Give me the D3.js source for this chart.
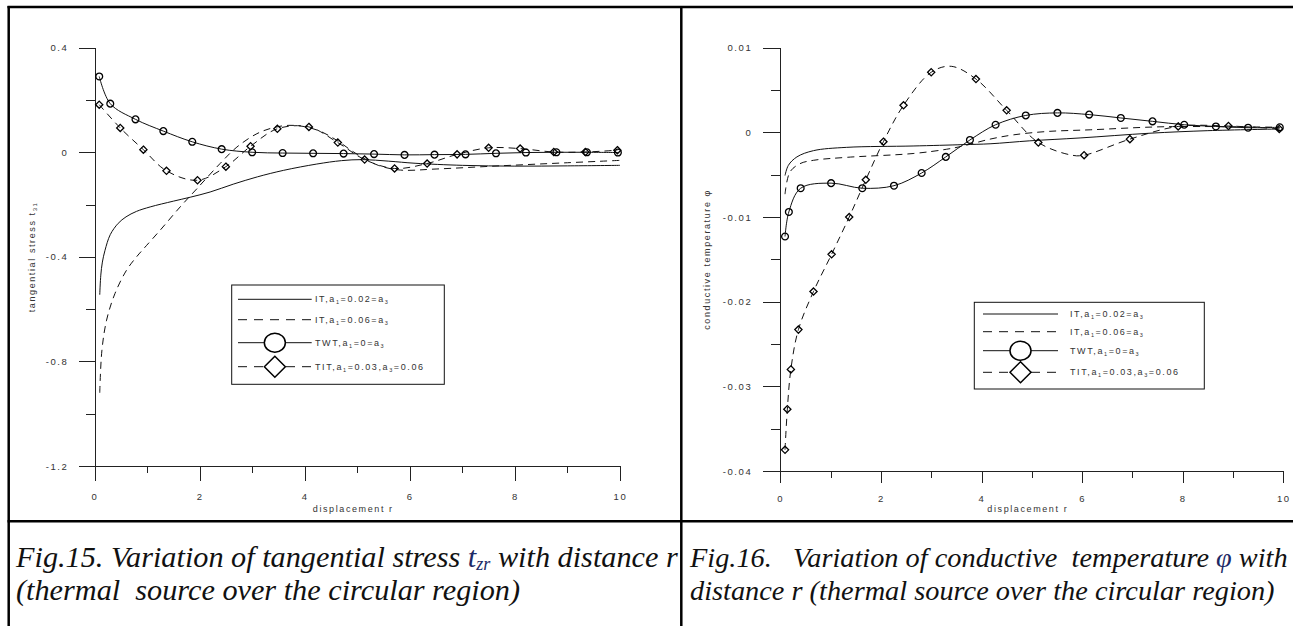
<!DOCTYPE html>
<html>
<head>
<meta charset="utf-8">
<script src="https://cdn.jsdelivr.net/npm/d3@7/dist/d3.min.js"></script>
<style>
  body { margin: 0; background: #fff; }
  svg { display: block; }
  .axis text { font-family: "Liberation Sans", Arial, sans-serif; font-size: 9.5px; fill: #333; letter-spacing: 1.6px; }
  .axis path, .axis line { stroke: #222; stroke-width: 1; shape-rendering: crispEdges; }
  .lbl { font-family: "Liberation Sans", Arial, sans-serif; font-size: 9px; fill: #333; letter-spacing: 1.6px; }
  .cap { font-family: "Liberation Serif", "Times New Roman", serif; font-style: italic; fill: #111; white-space: pre; }
</style>
</head>
<body>
<svg id="chart" width="1293" height="626"></svg>
<script>
// ticks
const xTicks = [0, 2, 4, 6, 8, 10];
const xMinorTicks = [1, 3, 5, 7, 9];
const stressTicks = [0.4, 0, -0.4, -0.8, -1.2];
const stressMinorTicks = [0.2, -0.2, -0.6, -1.0];
const tempTicks = [0.01, 0, -0.01, -0.02, -0.03, -0.04];
const tempMinorTicks = [0.005, -0.005, -0.015, -0.025, -0.035];

// Fig.15 tangential stress, [r, value]
const stressIT02 = [[0.1,-0.545],[0.12,-0.47],[0.15,-0.42],[0.2,-0.375],[0.3,-0.315],[0.45,-0.272],[0.6,-0.247],[0.8,-0.226],[1.06,-0.209],[1.5,-0.187],[1.82,-0.172],[2.2,-0.152],[2.64,-0.122],[3.1,-0.094],[3.6,-0.069],[4.23,-0.045],[4.7,-0.032],[5.1,-0.028],[5.6,-0.034],[6.1,-0.042],[7,-0.05],[8,-0.053],[9,-0.052],[10,-0.05]];
const stressIT06 = [[0.1,-0.92],[0.14,-0.76],[0.23,-0.642],[0.39,-0.54],[0.61,-0.451],[0.8,-0.4],[0.93,-0.37],[1.25,-0.298],[1.63,-0.209],[1.95,-0.139],[2.39,-0.043],[2.71,0.02],[3.09,0.071],[3.4,0.094],[3.7,0.103],[4.0,0.098],[4.3,0.08],[4.6,0.047],[5.0,-0.008],[5.4,-0.05],[5.82,-0.068],[6.5,-0.064],[7.7,-0.052],[9,-0.04],[10,-0.031]];
const stressTWT = [[0.09,0.29],[0.3,0.186],[0.78,0.126],[1.31,0.081],[1.86,0.04],[2.42,0.012],[3.0,0],[3.58,-0.003],[4.16,-0.004],[4.74,-0.005],[5.32,-0.007],[5.9,-0.01],[6.47,-0.009],[7.06,-0.008],[7.64,-0.004],[8.21,-0.001],[8.79,0],[9.37,0],[9.96,-0.001]];
const stressTIT = [[0.09,0.182],[0.49,0.093],[0.93,0.01],[1.37,-0.071],[1.96,-0.107],[2.5,-0.055],[2.97,0.023],[3.48,0.09],[4.08,0.097],[4.63,0.037],[5.14,-0.028],[5.71,-0.062],[6.33,-0.043],[6.9,-0.008],[7.5,0.017],[8.1,0.014],[8.74,0.001],[9.34,0.001],[9.95,0.008]];

// Fig.16 conductive temperature, [r, value]
const tempIT02 = [[0.094,-0.0051],[0.16,-0.0039],[0.33,-0.0029],[0.66,-0.00216],[1.32,-0.00177],[2.64,-0.00161],[3.64,-0.00145],[4.17,-0.00135],[4.96,-0.001],[5.96,-0.00066],[7.35,-0.0001],[8.5,0.0002],[9.93,0.0004]];
const tempIT06 = [[0.094,-0.0073],[0.19,-0.0047],[0.39,-0.0037],[0.66,-0.0033],[1.32,-0.00295],[2.64,-0.0025],[3.3,-0.002],[3.64,-0.0016],[4.17,-0.0008],[4.63,-0.0003],[5.3,0.0001],[6.16,0.0003],[7.68,0.00067],[9.93,0.0006]];
const tempTWT = [[0.094,-0.0123],[0.17,-0.0094],[0.405,-0.0066],[1.01,-0.006],[1.63,-0.0066],[2.26,-0.0063],[2.81,-0.0048],[3.29,-0.0029],[3.77,-0.0009],[4.28,0.0009],[4.88,0.002],[5.51,0.0023],[6.14,0.0021],[6.77,0.0017],[7.4,0.0013],[8.03,0.0009],[8.66,0.0007],[9.3,0.00055],[9.93,0.0006]];
const tempTITMarks = [[0.094,-0.0375],[0.14,-0.0327],[0.21,-0.028],[0.36,-0.0233],[0.66,-0.0188],[1.02,-0.0144],[1.37,-0.01],[1.7,-0.0056],[2.05,-0.0011],[2.45,0.0032],[3.0,0.0071],[3.89,0.0063],[4.5,0.0026],[5.13,-0.0012],[6.04,-0.0027],[6.95,-0.0008],[7.91,0.0007],[8.91,0.00075],[9.92,0.0004]];
const tempTITLine = [[0.094,-0.0375],[0.14,-0.0327],[0.21,-0.028],[0.36,-0.0233],[0.66,-0.0188],[1.02,-0.0144],[1.37,-0.01],[1.7,-0.0056],[2.05,-0.0011],[2.45,0.0032],[3.0,0.0071],[3.4,0.0078],[3.89,0.0063],[4.5,0.0026],[5.13,-0.0012],[5.8,-0.0027],[6.04,-0.0027],[6.95,-0.0008],[7.91,0.0007],[8.91,0.00075],[9.92,0.0004]];

// legend text, odd pieces are subscripts
const legendLabels = [
  ['IT,a', '1', '=0.02=a', '3'],
  ['IT,a', '1', '=0.06=a', '3'],
  ['TWT,a', '1', '=0=a', '3'],
  ['TIT,a', '1', '=0.03,a', '3', '=0.06'],
];

const svg = d3.select('#chart');
const dash = '7,5';

function diamond(s) {
  return `M0,${-s}L${s},0L0,${s}L${-s},0Z`;
}

function addPieces(textSel, pieces, subSize, shift) {
  pieces.forEach((p, i) => {
    const isSub = i % 2 === 1;
    textSel.append('tspan')
      .attr('dy', isSub ? shift : (i > 0 ? -shift : 0))
      .style('font-size', isSub ? subSize + 'px' : null)
      .text(p);
  });
}

function drawPanel(p) {
  const x = d3.scaleLinear().domain([0, 10]).range([p.left, p.right]);
  const y = d3.scaleLinear().domain(p.yDomain).range([p.bottom, p.top]);
  const g = svg.append('g');

  // axes
  g.append('g').attr('class', 'axis')
    .attr('transform', `translate(${p.left},0)`)
    .call(d3.axisLeft(y).tickValues(p.yTicks).tickSize(p.yTick).tickSizeOuter(0)
      .tickPadding(p.yPad).tickFormat((d) => String(d)));
  g.append('g').attr('class', 'axis')
    .attr('transform', `translate(${p.left},0)`)
    .call(d3.axisLeft(y).tickValues(p.yMinor).tickSize(9).tickSizeOuter(0).tickFormat(''));
  g.append('g').attr('class', 'axis')
    .attr('transform', `translate(0,${p.bottom})`)
    .call(d3.axisBottom(x).tickValues(xTicks).tickSize(p.xTick).tickSizeOuter(0)
      .tickPadding(p.xPad).tickFormat((d) => String(d)));
  g.append('g').attr('class', 'axis')
    .attr('transform', `translate(0,${p.bottom})`)
    .call(d3.axisBottom(x).tickValues(xMinorTicks).tickSize(7).tickSizeOuter(0).tickFormat(''));

  // axis titles
  g.append('text').attr('class', 'lbl')
    .attr('x', (p.left + p.right) / 2 - 4).attr('y', 512)
    .attr('text-anchor', 'middle').text('displacement r');
  const yt = g.append('text').attr('class', 'lbl')
    .attr('transform', `translate(${p.yTitleX},${(p.top + p.bottom) / 2}) rotate(-90)`)
    .attr('text-anchor', 'middle');
  addPieces(yt, p.yTitle, 6, 2);

  // lines
  const line = d3.line().x((d) => x(d[0])).y((d) => y(d[1]))
    .curve(d3.curveCatmullRom.alpha(0.5));
  p.series.forEach((s) => {
    g.append('path').datum(s.line)
      .attr('d', line)
      .attr('fill', 'none')
      .attr('stroke', '#111')
      .attr('stroke-width', 1)
      .attr('stroke-dasharray', s.dashed ? dash : null);
  });
  // markers
  p.series.filter((s) => s.marker).forEach((s) => {
    const m = g.append('g').selectAll('path').data(s.marks).join('path')
      .attr('transform', (d) => `translate(${x(d[0])},${y(d[1])})`)
      .attr('fill', 'none').attr('stroke', '#000').attr('stroke-width', 1.3);
    if (s.marker === 'circle') {
      m.attr('d', d3.symbol(d3.symbolCircle, Math.PI * 3.4 * 3.4));
    } else {
      m.attr('d', diamond(3.6));
    }
  });

  // legend
  const L = p.legend;
  const lg = g.append('g');
  lg.append('rect').attr('x', L.x).attr('y', L.y).attr('width', L.w).attr('height', L.h)
    .attr('fill', '#fff').attr('stroke', '#111').attr('stroke-width', 1);
  p.series.forEach((s, i) => {
    const ry = L.rows[i];
    lg.append('line').attr('x1', L.x0).attr('x2', L.x1).attr('y1', ry).attr('y2', ry)
      .attr('stroke', '#111').attr('stroke-width', 1)
      .attr('stroke-dasharray', s.dashed ? '9,7' : null);
    const mx = (L.x0 + L.x1) / 2;
    if (s.marker === 'circle') {
      lg.append('ellipse').attr('cx', mx).attr('cy', ry).attr('rx', 10.5).attr('ry', 9.5)
        .attr('fill', '#fff').attr('stroke', '#000').attr('stroke-width', 1.5);
    } else if (s.marker === 'diamond') {
      lg.append('path').attr('d', diamond(10.5)).attr('transform', `translate(${mx},${ry})`)
        .attr('fill', '#fff').attr('stroke', '#000').attr('stroke-width', 1.5);
    }
    const t = lg.append('text').attr('class', 'lbl').attr('x', L.tx).attr('y', ry + 3);
    addPieces(t, legendLabels[i], 5.5, 2);
  });
}

drawPanel({
  left: 94.5, right: 620, top: 47.7, bottom: 466,
  yDomain: [-1.2, 0.4], yTicks: stressTicks, yMinor: stressMinorTicks,
  yTick: 16, yPad: 10, xTick: 15, xPad: 12,
  yTitleX: 35, yTitle: ['tangential stress t', '31'],
  series: [
    { line: stressIT02 },
    { line: stressIT06, dashed: true },
    { line: stressTWT, marks: stressTWT, marker: 'circle' },
    { line: stressTIT, marks: stressTIT, marker: 'diamond', dashed: true },
  ],
  legend: { x: 231.7, y: 285, w: 212.6, h: 99.3, rows: [299.3, 319.7, 342.7, 366.7], x0: 238, x1: 311.7, tx: 315 },
});

drawPanel({
  left: 780.3, right: 1283.3, top: 47.7, bottom: 471,
  yDomain: [-0.04, 0.01], yTicks: tempTicks, yMinor: tempMinorTicks,
  yTick: 17, yPad: 11, xTick: 12, xPad: 12,
  yTitleX: 710, yTitle: ['conductive temperature φ'],
  series: [
    { line: tempIT02 },
    { line: tempIT06, dashed: true },
    { line: tempTWT, marks: tempTWT, marker: 'circle' },
    { line: tempTITLine, marks: tempTITMarks, marker: 'diamond', dashed: true },
  ],
  legend: { x: 974.3, y: 302.3, w: 230, h: 86.7, rows: [314, 331.7, 350.7, 372.3], x0: 983, x1: 1058, tx: 1070 },
});

// table frame
const frame = svg.append('g').attr('stroke', '#000').attr('stroke-width', 2.5);
frame.append('line').attr('x1', 7.5).attr('x2', 1293).attr('y1', 7).attr('y2', 7);
frame.append('line').attr('x1', 8.7).attr('x2', 8.7).attr('y1', 6).attr('y2', 626);
frame.append('line').attr('x1', 681.3).attr('x2', 681.3).attr('y1', 6).attr('y2', 626);
frame.append('line').attr('x1', 7.5).attr('x2', 1293).attr('y1', 521.3).attr('y2', 521.3);

// captions
const capColor = '#1d2a66';
const cap1a = svg.append('text').attr('class', 'cap').attr('x', 16).attr('y', 567).attr('xml:space', 'preserve');
cap1a.append('tspan').text('Fig.15. Variation of tangential stress ');
cap1a.append('tspan').attr('fill', capColor).text('t');
cap1a.append('tspan').attr('fill', capColor).attr('dy', 3).attr('class', 'capsub').text('zr');
cap1a.append('tspan').attr('dy', -3).text(' with distance r');
const cap1b = svg.append('text').attr('class', 'cap').attr('x', 16).attr('y', 600).attr('xml:space', 'preserve')
  .text('(thermal  source over the circular region)');
const cap2a = svg.append('text').attr('class', 'cap').attr('x', 690).attr('y', 567).attr('xml:space', 'preserve');
cap2a.append('tspan').text('Fig.16.   Variation of conductive  temperature ');
cap2a.append('tspan').attr('fill', capColor).text('φ');
cap2a.append('tspan').text(' with');
const cap2b = svg.append('text').attr('class', 'cap').attr('x', 690).attr('y', 600).attr('xml:space', 'preserve')
  .text('distance r (thermal source over the circular region)');

// fit each caption to the width its first line has in the page
function fitCaption(lines, target) {
  lines.forEach((t) => t.style('font-size', '20px'));
  lines[0].selectAll('.capsub').style('font-size', '12px');
  const widest = d3.max(lines, (t) => t.node().getComputedTextLength());
  const fs = 20 * target / widest;
  lines.forEach((t) => t.style('font-size', fs + 'px'));
  lines[0].selectAll('.capsub').style('font-size', (fs * 0.6) + 'px');
}
fitCaption([cap1a, cap1b], 662);
fitCaption([cap2a, cap2b], 598);
</script>
</body>
</html>
